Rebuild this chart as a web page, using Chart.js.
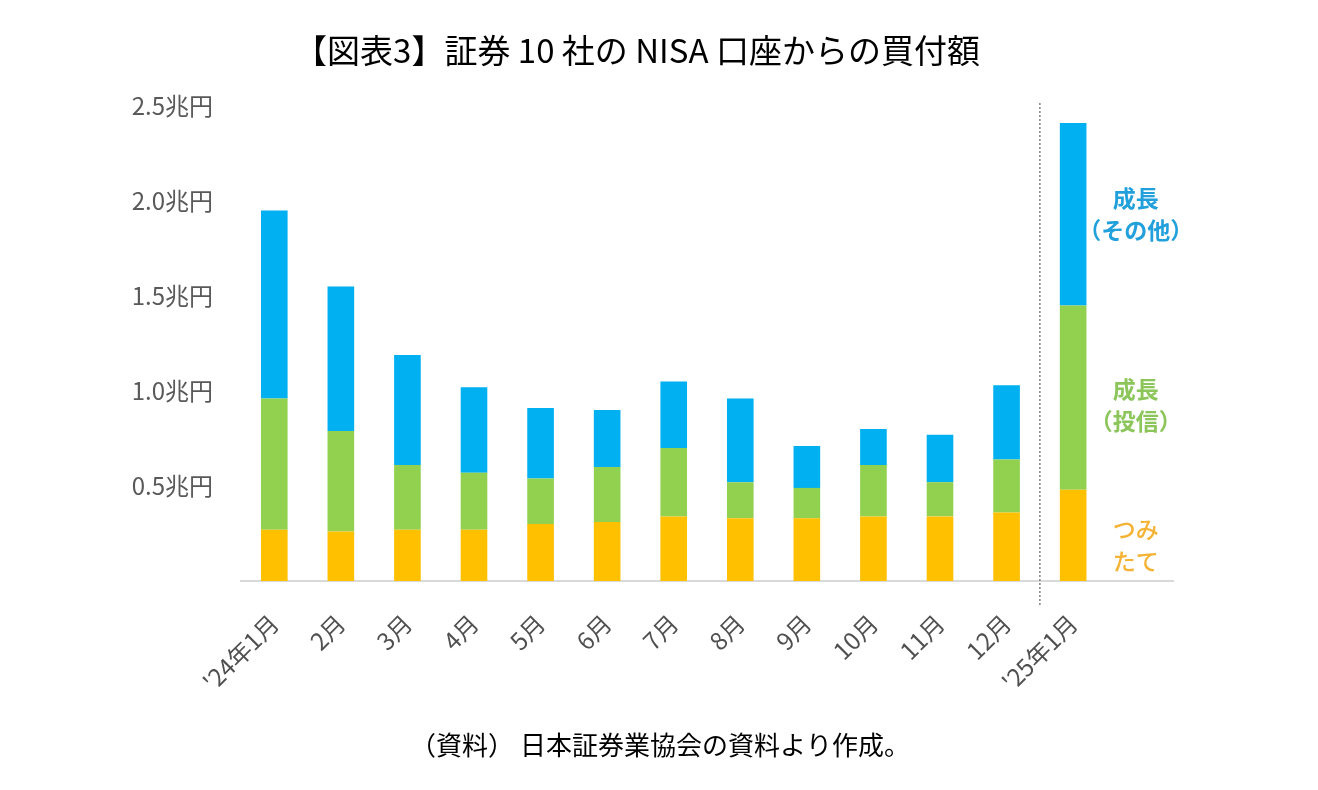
<!DOCTYPE html>
<html>
<head>
<meta charset="utf-8">
<script src="https://cdn.jsdelivr.net/npm/chart.js@4.4.1/dist/chart.umd.min.js"></script>
<style>
html, body { margin: 0; padding: 0; background: #fff; }
#wrap { width: 1318px; height: 790px; position: relative; }
</style>
</head>
<body>
<div id="wrap"><canvas id="nisaChart"></canvas></div>
<script>
// data (兆円)
const months = ["'24年1月", "2月", "3月", "4月", "5月", "6月", "7月", "8月", "9月", "10月", "11月", "12月", "'25年1月", ""];
const tsumitate = [0.27, 0.26, 0.27, 0.27, 0.30, 0.31, 0.34, 0.33, 0.33, 0.34, 0.34, 0.36, 0.48];
const toushin   = [0.69, 0.53, 0.34, 0.30, 0.24, 0.29, 0.36, 0.19, 0.16, 0.27, 0.18, 0.28, 0.97];
const sonota    = [0.99, 0.76, 0.58, 0.45, 0.37, 0.30, 0.35, 0.44, 0.22, 0.19, 0.25, 0.39, 0.96];
const yTicks = [0, 0.5, 1.0, 1.5, 2.0, 2.5];

const titleText = '【図表3】証券 10 社の NISA 口座からの買付額';
const sourceText = '（資料） 日本証券業協会の資料より作成。';
const seriesNames = [['つみ', 'たて'], ['成長', '（投信）'], ['成長', '（その他）']];
const seriesColors = ['#FFC000', '#92D050', '#00B0F0'];
const labelColors = ['#F5B335', '#8CC65A', '#22A0DC'];

const jp = '"Noto Sans CJK JP", "Noto Sans", sans-serif';

// 注釈・タイトル・点線
const extras = {
    id: 'extras',
    afterDraw(chart) {
        const ctx = chart.ctx;
        const x = chart.scales.x, y = chart.scales.y;
        ctx.save();

        ctx.fillStyle = '#000';
        ctx.font = '400 33px ' + jp;
        ctx.textAlign = 'center';
        ctx.textBaseline = 'middle';
        ctx.fillText(titleText, 637, 50);

        ctx.font = '400 26px ' + jp;
        ctx.fillText(sourceText, 660, 745);

        // 24年と25年の区切り
        const sepX = (x.getPixelForValue(11) + x.getPixelForValue(12)) / 2;
        ctx.strokeStyle = '#808080';
        ctx.lineWidth = 1.5;
        ctx.setLineDash([2, 2]);
        ctx.beginPath();
        ctx.moveTo(sepX, 103);
        ctx.lineTo(sepX, 606);
        ctx.stroke();
        ctx.setLineDash([]);

        // 系列名 (最後の棒の右)
        const last = 12;
        const lx = x.getPixelForValue(13) - 4;
        const segs = [[0, tsumitate[last]],
                      [tsumitate[last], tsumitate[last] + toushin[last]],
                      [tsumitate[last] + toushin[last], tsumitate[last] + toushin[last] + sonota[last]]];
        const shift = [10, 8, 0];
        segs.forEach((s, i) => {
            const cy = y.getPixelForValue((s[0] + s[1]) / 2) + shift[i];
            ctx.fillStyle = labelColors[i];
            ctx.font = (i == 0 ? '500' : '700') + ' 23px ' + jp;
            ctx.fillText(seriesNames[i][0], lx, cy - 16);
            ctx.fillText(seriesNames[i][1], lx, cy + 16);
        });
        ctx.restore();
    }
};

var ctx = document.getElementById('nisaChart');
var nisaChart = new Chart(ctx, {
    type: 'bar',
    data: {
        labels: months,
        datasets: [
            { label: 'つみたて', data: tsumitate, backgroundColor: seriesColors[0] },
            { label: '成長（投信）', data: toushin, backgroundColor: seriesColors[1] },
            { label: '成長（その他）', data: sonota, backgroundColor: seriesColors[2] }
        ]
    },
    options: {
        responsive: true,
        maintainAspectRatio: false,
        animation: false,
        datasets: { bar: { barPercentage: 0.4, categoryPercentage: 1.0 } },
        layout: { padding: { left: 21, right: 145, top: 106, bottom: 89 } },
        plugins: {
            legend: { display: false },
            tooltip: { enabled: false }
        },
        scales: {
            x: {
                stacked: true,
                grid: { display: false, drawTicks: false },
                border: { display: true, color: '#D9D9D9', width: 2 },
                ticks: {
                    autoSkip: false,
                    minRotation: 45,
                    maxRotation: 45,
                    padding: 28,
                    color: '#505050',
                    font: { family: jp, size: 24 }
                },
                afterFit: (s) => { s.height = 120; }
            },
            y: {
                stacked: true,
                min: 0,
                max: 2.5,
                afterBuildTicks: (s) => { s.ticks = yTicks.map(v => ({ value: v })); },
                grid: { display: false, drawTicks: false },
                border: { display: false },
                ticks: {
                    padding: 28,
                    color: '#595959',
                    font: { family: jp, size: 24 },
                    callback: (v) => v === 0 ? '' : v.toFixed(1) + '兆円'
                },
                afterFit: (s) => { s.width = 220; }
            }
        }
    },
    plugins: [extras]
});
</script>
</body>
</html>
